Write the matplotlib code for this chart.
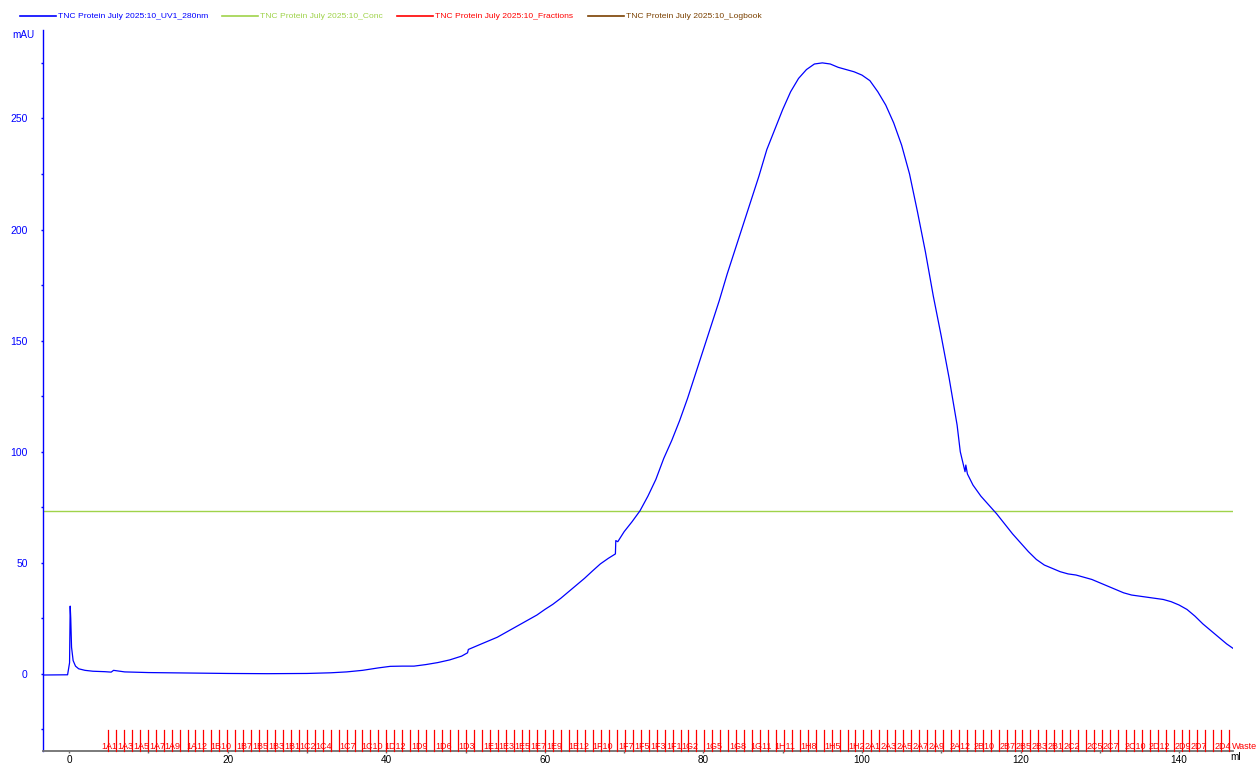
import matplotlib
matplotlib.use("Agg")
import matplotlib.pyplot as plt
import matplotlib.transforms as mtransforms
from matplotlib.lines import Line2D
from matplotlib.ticker import MultipleLocator

plt.rcParams['font.family'] = ['Liberation Sans', 'DejaVu Sans']

# ---------------- data ----------------
uv_ml = [-3.3, -0.2, 0.05, 0.13, 0.2, 0.3, 0.5, 0.8, 1.2, 2.0, 3.0, 4.5, 5.3, 5.6, 6.2, 7.0,
         10, 15, 20, 25, 30, 33, 35, 37, 39, 40.5, 42, 43.5, 45, 46.5, 48, 49.5, 50.25, 50.35,
         51, 52, 53, 54, 55, 56, 57, 58, 59, 60, 61, 62, 63, 64, 65, 66, 67, 68, 68.9, 68.95,
         69.2, 70, 71, 72, 73, 74, 75, 76, 77, 78, 79, 80, 81, 82, 83, 84, 85, 86, 87, 88, 89,
         90, 91, 92, 93, 94, 95, 96, 97, 98, 99, 100, 101, 102, 103, 104, 105, 106, 107, 108,
         109, 110, 111, 112, 112.4, 113.0, 113.1, 113.3, 114, 115, 116, 117, 118, 119, 120,
         121, 122, 123, 124, 125, 126, 127, 128, 129, 130, 131, 132, 133, 134, 135, 136, 137,
         138, 139, 140, 141, 142, 143, 144, 145, 146, 146.8]
uv_mau = [-0.5, -0.4, 5, 30.5, 25, 12, 6, 3.5, 2.3, 1.6, 1.2, 1.0, 0.8, 1.6, 1.3, 0.9,
          0.6, 0.4, 0.2, 0.1, 0.2, 0.5, 0.9, 1.6, 2.7, 3.4, 3.5, 3.5, 4.2, 5.1, 6.3, 8.0, 9.5, 11,
          12, 13.5, 15, 16.5, 18.5, 20.5, 22.5, 24.5, 26.5, 29, 31.3, 34, 37, 40, 43, 46.3, 49.5, 52, 54, 60,
          59.5, 64, 68.5, 73.4, 80, 87.5, 97, 105, 114, 124, 135, 146, 157, 168, 180, 191, 202, 213, 224, 236, 245,
          254, 262, 268, 272, 274.5, 275, 274.5, 273, 272, 271, 269.5, 267, 262, 256, 248, 238, 225, 208, 190,
          170, 152, 133, 112, 100, 91, 94, 90, 85, 80, 76, 72, 67.5, 63, 59,
          55, 51.5, 49, 47.5, 46, 45, 44.5, 43.5, 42.5, 41, 39.5, 38, 36.5, 35.5, 35, 34.5, 34,
          33.5, 32.5, 31, 29, 26, 22.5, 19.5, 16.5, 13.5, 11.5]

conc_ml = [-3.3, 146.8]
conc_mau = [73.4, 73.4]

# fraction plate layout (serpentine), first fraction start and width (ml)
frac_start = 4.9
frac_width = 1.003
plate_rows = ['A', 'B', 'C', 'D', 'E', 'F', 'G', 'H']
last_fraction = '2D4'
shown_labels = ['1A1', '1A3', '1A5', '1A7', '1A9', '1A12', '1B10', '1B7', '1B5', '1B3', '1B1',
                '1C2', '1C4', '1C7', '1C10', '1D12', '1D9', '1D6', '1D3', '1E1', '1E3', '1E5',
                '1E7', '1E9', '1E12', '1F10', '1F7', '1F5', '1F3', '1F1', '1G2', '1G5', '1G8',
                '1G11', '1H11', '1H8', '1H5', '1H2', '2A1', '2A3', '2A5', '2A7', '2A9', '2A12',
                '2B10', '2B7', '2B5', '2B3', '2B1', '2C2', '2C5', '2C7', '2C10', '2D12', '2D9',
                '2D7', '2D4', 'Waste']

legend_labels = ['TNC Protein July 2025:10_UV1_280nm', 'TNC Protein July 2025:10_Conc',
                 'TNC Protein July 2025:10_Fractions', 'TNC Protein July 2025:10_Logbook']

# ---------------- styles ----------------
c_uv = '#0000ff'
c_conc = '#9fd34a'
c_frac = '#ff0000'
c_log = '#7a4000'

# build fraction names
names = []
done = False
for plate in (1, 2):
    for ri, r in enumerate(plate_rows):
        cols = range(1, 13) if ri % 2 == 0 else range(12, 0, -1)
        for c in cols:
            nm = f'{plate}{r}{c}'
            names.append(nm)
            if nm == last_fraction:
                done = True
                break
        if done:
            break
    if done:
        break
names.append('Waste')
frac_pos = [frac_start + i * frac_width for i in range(len(names))]

fig = plt.figure(figsize=(12.57, 7.63), dpi=100)
W, H = 1257, 763
ax = fig.add_axes([43 / W, 12 / H, (1233 - 43) / W, (751 - 30) / H])

ax.plot(uv_ml, uv_mau, color=c_uv, lw=0.9, zorder=3)
ax.plot(conc_ml, conc_mau, color=c_conc, lw=1.0, zorder=2)

trans = mtransforms.blended_transform_factory(ax.transData, ax.transAxes)
for nm, x in zip(names, frac_pos):
    ax.plot([x, x], [0, 0.029], color=c_frac, lw=0.9, transform=trans, clip_on=False, zorder=4)
for nm in shown_labels:
    x = frac_pos[names.index(nm)]
    if nm == 'Waste':
        ax.text(x + 0.3, 0.003, nm, color=c_frac, fontsize=6.5, ha='left', va='baseline',
                transform=trans, clip_on=False)
    else:
        ax.text(x + 0.15, 0.003, nm, color=c_frac, fontsize=6.5, ha='center', va='baseline',
                transform=trans, clip_on=False)

ax.set_xlim(-3.3, 146.8)
ax.set_ylim(-34.7, 289.8)

for s in ('top', 'right'):
    ax.spines[s].set_visible(False)
ax.spines['left'].set_color(c_uv)
ax.spines['left'].set_linewidth(1.0)
ax.spines['bottom'].set_color('#707070')
ax.spines['bottom'].set_linewidth(1.3)

ax.xaxis.set_major_locator(MultipleLocator(20))
ax.xaxis.set_minor_locator(MultipleLocator(10))
ax.set_yticks([0, 50, 100, 150, 200, 250])
ax.yaxis.set_minor_locator(MultipleLocator(25))
ax.tick_params(axis='y', which='both', colors=c_uv, labelcolor=c_uv, length=1.5, width=1,
               labelsize=7.5, pad=9.5)
ax.tick_params(axis='x', which='both', colors='#707070', labelcolor='black', length=1.5, width=1,
               labelsize=7.2, pad=1.5)

fig.text(12 / W, 1 - 35.5 / H, 'mAU', color=c_uv, fontsize=7.2, ha='left', va='center')
fig.text(1230 / W, 1 - 757 / H, 'ml', color='black', fontsize=7.2, ha='left', va='center')

# legend drawn manually at top; font size fitted so the first entry is ~151 px wide
renderer = fig.canvas.get_renderer()
probe = fig.text(0, 0, legend_labels[0], fontsize=6.0)
w0 = probe.get_window_extent(renderer=renderer).width
probe.remove()
leg_size = 6.0 * 151.0 / w0

leg_x = [20, 222, 397, 588]
for xs, lab, col in zip(leg_x, legend_labels, [c_uv, c_conc, c_frac, c_log]):
    fig.add_artist(Line2D([xs / W, (xs + 36) / W], [1 - 16 / H, 1 - 16 / H], color=col, lw=1.2,
                          transform=fig.transFigure))
    fig.text((xs + 38) / W, 1 - 16.5 / H, lab, color=col, fontsize=leg_size,
             ha='left', va='center')

fig.savefig('out.png', dpi=100)
